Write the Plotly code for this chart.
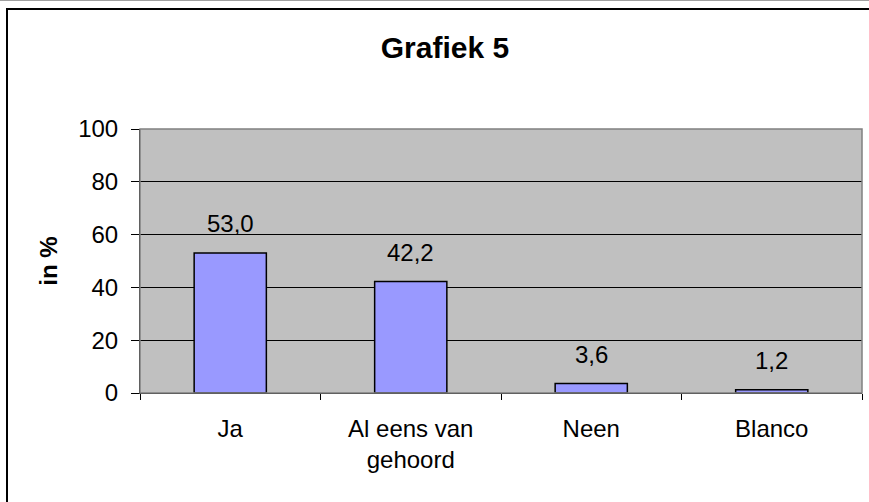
import plotly.graph_objects as go

categories = ["Ja", "Al eens van<br>gehoord", "Neen", "Blanco"]
values = [53.0, 42.2, 3.6, 1.2]
y_ticks = [0, 20, 40, 60, 80, 100]

W, H = 869, 502
L, R, T, B = 140, 7, 129, 109
pw, ph = W - L - R, H - T - B

def px(x):
    return (x - L) / pw

def py(y):
    return (H - B - y) / ph

FONT = "Arial, Liberation Sans, sans-serif"

fig = go.Figure(go.Bar(
    x=categories,
    y=values,
    marker=dict(color="#9999FF", line=dict(color="black", width=1.5)),
    hoverinfo="x+y",
))

annotations = [
    dict(x=c, y=v, xref="x", yref="y", text=f"{v:.1f}".replace(".", ","),
         showarrow=False, yanchor="bottom", yshift=14,
         font=dict(family=FONT, size=24, color="black"))
    for c, v in zip(categories, values)
]

fig.update_layout(
    width=W, height=H,
    margin=dict(l=L, r=R, t=T, b=B),
    paper_bgcolor="white",
    plot_bgcolor="#C0C0C0",
    separators=",.",
    bargap=0.6,
    showlegend=False,
    font=dict(family=FONT, size=24, color="black"),
    title=dict(text="<b>Grafiek 5</b>", x=445 / W, xref="container", xanchor="center",
               y=1 - 47 / H, yref="container", yanchor="middle",
               font=dict(family=FONT, size=30, color="black")),
    annotations=annotations,
    shapes=[
        dict(type="rect", xref="paper", yref="paper",
             x0=px(7), x1=px(880), y0=py(515), y1=py(9),
             line=dict(color="black", width=2), layer="below"),
        dict(type="line", xref="paper", yref="paper",
             x0=px(0), x1=px(869), y0=py(0.5), y1=py(0.5),
             line=dict(color="#A0A0A0", width=1), layer="below"),
        dict(type="rect", xref="paper", yref="paper",
             x0=0, x1=1, y0=0, y1=1,
             line=dict(color="#808080", width=1.5), layer="above"),
    ],
)

fig.update_xaxes(
    type="category",
    showline=True, linecolor="black", linewidth=1,
    ticks="outside", tickson="boundaries", ticklen=6, tickcolor="black",
    ticklabelstandoff=14,
    tickfont=dict(family=FONT, size=24, color="black"),
    showgrid=False, zeroline=False,
)

fig.update_yaxes(
    range=[0, 100], tickvals=y_ticks,
    showline=True, linecolor="black", linewidth=1,
    ticks="outside", ticklen=8, tickcolor="black",
    ticklabelstandoff=8,
    tickfont=dict(family=FONT, size=24, color="black"),
    showgrid=True, gridcolor="black", gridwidth=1,
    zeroline=False,
    title=dict(text="<b>in %</b>", font=dict(family=FONT, size=24, color="black"), standoff=13),
)

fig.write_html("out.html", config={"displayModeBar": False},
               post_script="document.body.style.margin='0';")
